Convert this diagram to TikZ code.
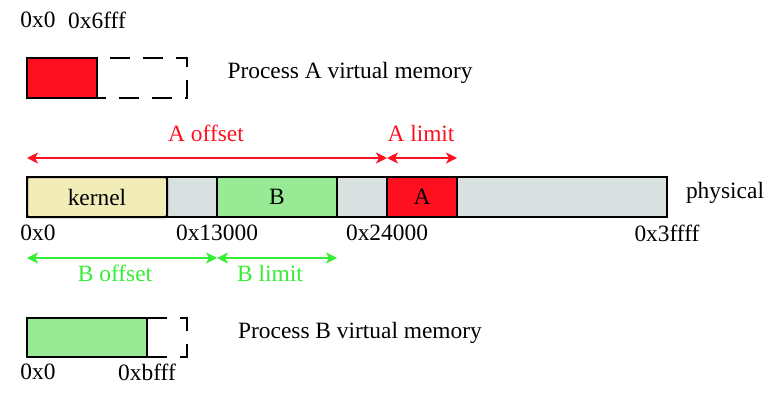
\documentclass[tikz,border=0pt]{standalone}
\usepackage{fontspec}
\setmainfont{Liberation Serif}
\usetikzlibrary{arrows.meta}
\definecolor{cred}{HTML}{FF1020}
\definecolor{cgreen}{HTML}{98EA94}
\definecolor{agreen}{HTML}{33EE33}
\definecolor{cgray}{HTML}{D8E0E0}
\definecolor{ckern}{HTML}{F1ECB8}
\tikzset{
  seg/.style={draw=black, line width=2pt, minimum height=40pt, inner sep=0pt, outer sep=0pt, anchor=north west},
  lbl/.style={font=\fontsize{23.4}{27}\selectfont, inner sep=0pt},
  dimarrow/.style={line width=1.6pt, {Stealth[length=11pt,width=11pt,inset=3pt]}-{Stealth[length=11pt,width=11pt,inset=3pt]}},
  dashbox/.style={line width=2pt, dash pattern=on 20pt off 13pt, dash phase=20pt}
}
\begin{document}
\begin{tikzpicture}[x=1pt,y=-1pt]
\useasboundingbox (0,0) rectangle (784,402);
% Process A
\node[lbl] (a0) at (38,20) {0x0};
\node[lbl] (a6) at (97,20) {0x6fff};
\draw[dashbox] (97,58) -- (187,58) -- (187,98) -- (97,98);
\node[seg, fill=cred, minimum width=70pt] (arect) at (27,58) {};
\node[lbl] (aname) at (350,73) {Process A virtual memory};
% physical bar
\node[seg, fill=cgray, minimum width=640pt] (bar) at (27,177) {};
\node[seg, fill=ckern, minimum width=140pt, rounded corners=2pt] (kern) at (27,177) {};
\node[lbl] at (kern.center) {kernel};
\node[seg, fill=cgreen, minimum width=120pt] (bseg) at (217,177) {};
\node[lbl] at (bseg.center) {B};
\node[seg, fill=cred, minimum width=70pt] (aseg) at (387,177) {};
\node[lbl] at (aseg.center) {A};
\node[lbl] (phys) at (725,193) {physical};
% addresses
\node[lbl] (p0) at (38,233) {0x0};
\node[lbl] (p13) at (217,233) {0x13000};
\node[lbl] (p24) at (387,233) {0x24000};
\node[lbl] (p3f) at (667,233) {0x3ffff};
% A arrows
\coordinate (ao1) at (27,158);
\coordinate (ao2) at (387,158);
\coordinate (al2) at (457,158);
\draw[dimarrow, cred] (ao1) -- (ao2);
\draw[dimarrow, cred] (ao2) -- (al2);
\node[lbl, text=cred] (aoff) at (206,133) {A offset};
\node[lbl, text=cred] (alim) at (421,133) {A limit};
% B arrows
\coordinate (bo1) at (27,258);
\coordinate (bo2) at (217,258);
\coordinate (bl2) at (337,258);
\draw[dimarrow, agreen] (bo1) -- (bo2);
\draw[dimarrow, agreen] (bo2) -- (bl2);
\node[lbl, text=agreen] (boff) at (115,273) {B offset};
\node[lbl, text=agreen] (blim) at (270,273) {B limit};
% Process B
\draw[dashbox, dash phase=0pt] (147,318) -- (187,318) -- (187,357) -- (147,357);
\node[seg, fill=cgreen, minimum width=120pt, minimum height=39pt] (brect) at (27,318) {};
\node[lbl] (b0) at (38,372) {0x0};
\node[lbl] (bb) at (147,372) {0xbfff};
\node[lbl] (bname) at (360,333) {Process B virtual memory};
\end{tikzpicture}
\end{document}
